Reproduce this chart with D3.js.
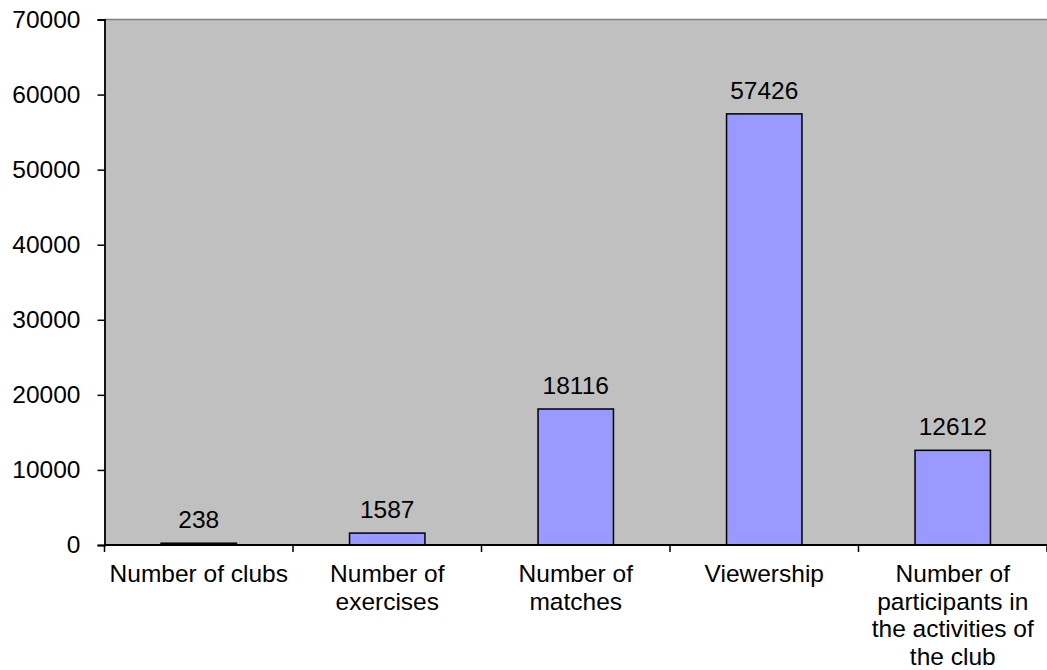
<!DOCTYPE html>
<html>
<head>
<meta charset="utf-8">
<script src="https://cdn.jsdelivr.net/npm/d3@7"></script>
<style>
  body { margin: 0; background: #fff; }
  text { font-family: "Liberation Sans", Arial, sans-serif; fill: #000; }
</style>
</head>
<body>
<div id="chart"></div>
<script>
// chart data
var categories = [
    "Number of clubs",
    "Number of\nexercises",
    "Number of\nmatches",
    "Viewership",
    "Number of\nparticipants in\nthe activities of\nthe club"
];
var values = [238, 1587, 18116, 57426, 12612];
var yTicks = [0, 10000, 20000, 30000, 40000, 50000, 60000, 70000];

var width = 1047, height = 670;
var margin = {top: 19.5, right: 0, bottom: 125, left: 104.5};
var innerW = width - margin.left - margin.right,
    innerH = height - margin.top - margin.bottom;
var fontSize = "24.5px";

var svg = d3.select("#chart").append("svg")
    .attr("width", width)
    .attr("height", height);

var g = svg.append("g")
    .attr("transform", "translate(" + margin.left + "," + margin.top + ")");

var x = d3.scaleBand()
    .domain(categories)
    .range([0, innerW])
    .paddingInner(0.6)
    .paddingOuter(0.3);

var y = d3.scaleLinear()
    .domain([0, 70000])
    .range([innerH, 0]);

// plot area
g.append("rect")
    .attr("width", innerW)
    .attr("height", innerH)
    .attr("fill", "#c0c0c0");
g.append("line")
    .attr("x1", 0).attr("x2", innerW)
    .attr("y1", 0).attr("y2", 0)
    .attr("stroke", "#808080")
    .attr("stroke-width", 1.5);

// bars
g.selectAll(".bar")
    .data(values)
    .enter().append("rect")
    .attr("class", "bar")
    .attr("x", function(d, i){ return x(categories[i]); })
    .attr("y", function(d){ return y(d); })
    .attr("width", x.bandwidth())
    .attr("height", function(d){ return innerH - y(d); })
    .attr("fill", "#9999ff")
    .attr("stroke", "#000")
    .attr("stroke-width", 1.5);

// value labels
g.selectAll(".val")
    .data(values)
    .enter().append("text")
    .attr("class", "val")
    .attr("x", function(d, i){ return x(categories[i]) + x.bandwidth() / 2; })
    .attr("y", function(d){ return y(d) - 15; })
    .attr("text-anchor", "middle")
    .style("font-size", fontSize)
    .text(function(d){ return d; });

// y axis
var yAxis = g.append("g")
    .call(d3.axisLeft(y).tickValues(yTicks).tickSize(7).tickPadding(17).tickFormat(d3.format("d")));
yAxis.select(".domain").attr("stroke", "#000").attr("stroke-width", 1.8);
yAxis.selectAll(".tick line").attr("stroke", "#000").attr("stroke-width", 1.5);
yAxis.selectAll("text").style("font-size", fontSize).attr("font-family", null);

// x axis: ticks between categories
var step = innerW / categories.length;
var xAxis = g.append("g")
    .attr("transform", "translate(0," + innerH + ")");
xAxis.append("line")
    .attr("x1", 0).attr("x2", innerW)
    .attr("stroke", "#000")
    .attr("stroke-width", 1.8);
xAxis.selectAll(".xtick")
    .data(d3.range(categories.length + 1))
    .enter().append("line")
    .attr("class", "xtick")
    .attr("x1", function(i){ return i * step; })
    .attr("x2", function(i){ return i * step; })
    .attr("y1", 0).attr("y2", 7)
    .attr("stroke", "#000")
    .attr("stroke-width", 1.5);

var labels = xAxis.selectAll(".xlab")
    .data(categories)
    .enter().append("text")
    .attr("class", "xlab")
    .attr("text-anchor", "middle")
    .attr("transform", function(d){ return "translate(" + (x(d) + x.bandwidth() / 2) + ",37)"; })
    .style("font-size", fontSize);
labels.selectAll("tspan")
    .data(function(d){ return d.split("\n"); })
    .enter().append("tspan")
    .attr("x", 0)
    .attr("dy", function(d, i){ return i === 0 ? 0 : 27.5; })
    .text(function(d){ return d; });
</script>
</body>
</html>
